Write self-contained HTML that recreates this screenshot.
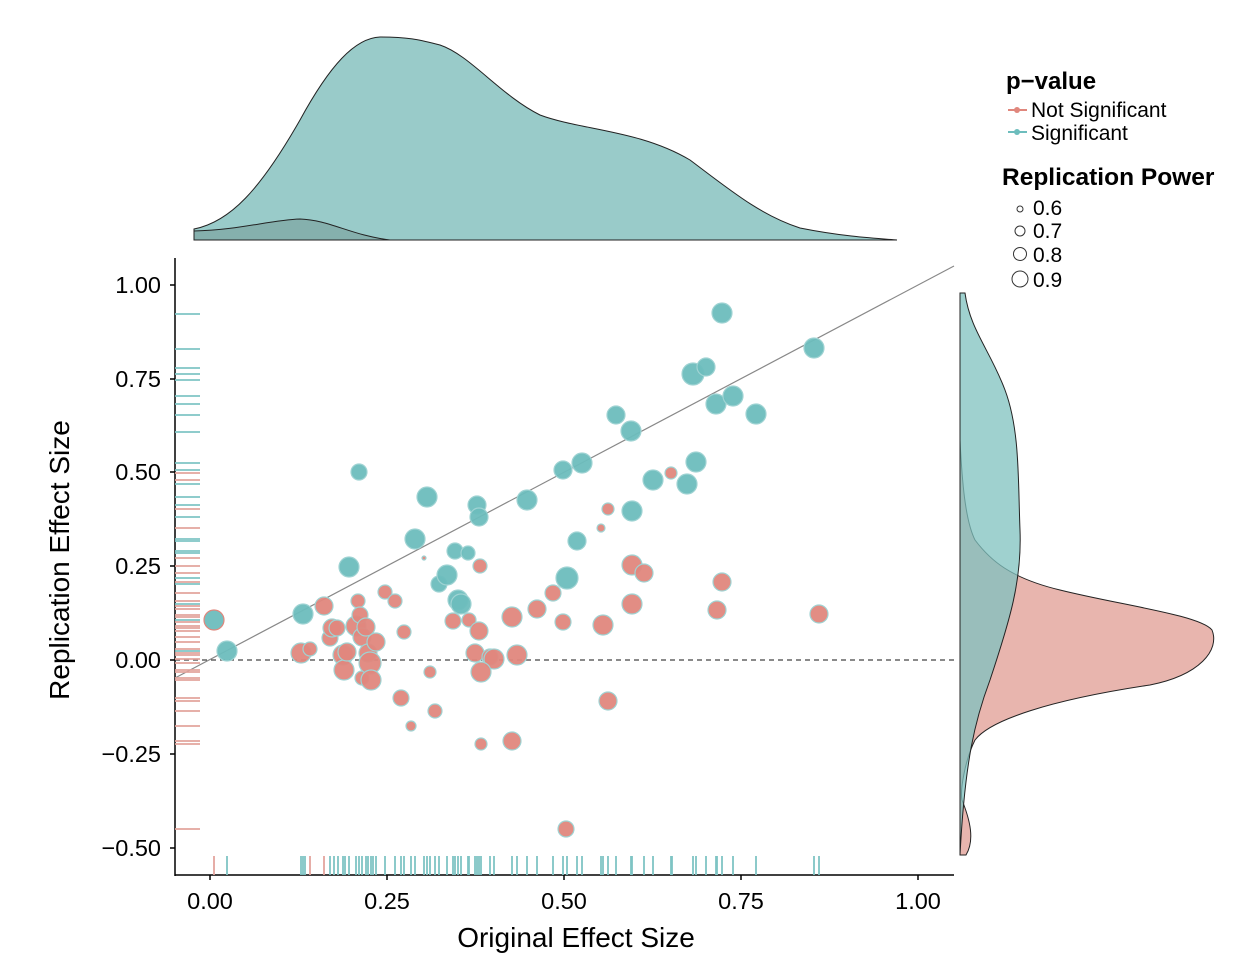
<!DOCTYPE html>
<html><head><meta charset="utf-8"><style>
body{margin:0;background:#fff;}
svg text{font-family:"Liberation Sans",sans-serif;}
</style></head><body>
<svg width="1250" height="966" viewBox="0 0 1250 966" xmlns="http://www.w3.org/2000/svg">
<rect width="1250" height="966" fill="#fff"/>
<!-- top density -->
<path d="M194,240 L194,229 C230,222 260,190 300,120 C330,65 355,38 380,37 C410,37 420,40 440,45 C470,55 500,95 540,115 C580,130 640,130 690,160 C730,190 760,215 800,228 C840,236 870,238 897,240 Z" fill="#99cbc9" stroke="#222" stroke-width="1"/>
<path d="M194,240 L194,231 C240,230 270,220 300,219 C330,220 350,235 390,240 Z" fill="#7fa9a6" stroke="#222" stroke-width="1" fill-opacity="0.8"/>
<!-- right density -->
<path d="M960,855 L966,855 C975,840 970,820 962,800 C960,790 965,760 975,740 C990,720 1050,700 1150,685 C1200,675 1220,650 1212,630 C1200,615 1120,605 1060,590 C1010,578 990,560 975,540 C965,520 962,480 960,440 Z" fill="#e8b5ae" stroke="#222" stroke-width="1"/>
<path d="M960,293 L965,293 C970,330 990,350 1005,390 C1020,430 1018,480 1020,530 C1022,580 1010,620 990,680 C975,720 965,760 960,855 Z" fill="#7fc1bf" fill-opacity="0.75" stroke="#222" stroke-width="1"/>
<!-- axes -->
<line x1="175" y1="258" x2="175" y2="876" stroke="#000" stroke-width="1.5"/>
<line x1="175" y1="875" x2="954" y2="875" stroke="#000" stroke-width="1.5"/>
<g stroke="#000" stroke-width="1.5">
<line x1="170" y1="285" x2="175" y2="285"/><line x1="170" y1="379" x2="175" y2="379"/><line x1="170" y1="472" x2="175" y2="472"/><line x1="170" y1="566" x2="175" y2="566"/><line x1="170" y1="660" x2="175" y2="660"/><line x1="170" y1="754" x2="175" y2="754"/><line x1="170" y1="848" x2="175" y2="848"/>
<line x1="210" y1="875" x2="210" y2="880"/><line x1="387" y1="875" x2="387" y2="880"/><line x1="564" y1="875" x2="564" y2="880"/><line x1="741" y1="875" x2="741" y2="880"/><line x1="918" y1="875" x2="918" y2="880"/>
</g>
<g font-size="23.5" fill="#000" text-anchor="end">
<text x="161" y="293">1.00</text><text x="161" y="387">0.75</text><text x="161" y="480">0.50</text><text x="161" y="574">0.25</text><text x="161" y="668">0.00</text><text x="161" y="762">−0.25</text><text x="161" y="856">−0.50</text>
</g>
<g font-size="23.5" fill="#000" text-anchor="middle">
<text x="210" y="909">0.00</text><text x="387" y="909">0.25</text><text x="564" y="909">0.50</text><text x="741" y="909">0.75</text><text x="918" y="909">1.00</text>
</g>
<text x="576" y="947" font-size="28" text-anchor="middle">Original Effect Size</text>
<text transform="translate(69,560) rotate(-90)" font-size="28" text-anchor="middle">Replication Effect Size</text>
<!-- reference lines -->
<line x1="175" y1="678" x2="954" y2="266" stroke="#888" stroke-width="1.2"/>
<line x1="175" y1="660" x2="954" y2="660" stroke="#444" stroke-width="1.3" stroke-dasharray="5,4"/>
<!-- y rug -->
<g stroke="#e3a49d" stroke-width="1.8">
<line x1="175" x2="200" y1="473" y2="473"/><line x1="175" x2="200" y1="480" y2="480"/><line x1="175" x2="200" y1="509" y2="509"/><line x1="175" x2="200" y1="528" y2="528"/><line x1="175" x2="200" y1="558" y2="558"/><line x1="175" x2="200" y1="566" y2="566"/><line x1="175" x2="200" y1="573" y2="573"/><line x1="175" x2="200" y1="582" y2="582"/><line x1="175" x2="200" y1="593" y2="593"/><line x1="175" x2="200" y1="601" y2="601"/><line x1="175" x2="200" y1="606" y2="606"/><line x1="175" x2="200" y1="609" y2="609"/><line x1="175" x2="200" y1="615" y2="615"/><line x1="175" x2="200" y1="617" y2="617"/><line x1="175" x2="200" y1="622" y2="622"/><line x1="175" x2="200" y1="626" y2="626"/><line x1="175" x2="200" y1="628" y2="628"/><line x1="175" x2="200" y1="631" y2="631"/><line x1="175" x2="200" y1="637" y2="637"/><line x1="175" x2="200" y1="642" y2="642"/><line x1="175" x2="200" y1="649" y2="649"/><line x1="175" x2="200" y1="653" y2="653"/><line x1="175" x2="200" y1="655" y2="655"/><line x1="175" x2="200" y1="659" y2="659"/><line x1="175" x2="200" y1="663" y2="663"/><line x1="175" x2="200" y1="670" y2="670"/><line x1="175" x2="200" y1="672" y2="672"/><line x1="175" x2="200" y1="678" y2="678"/><line x1="175" x2="200" y1="680" y2="680"/><line x1="175" x2="200" y1="698" y2="698"/><line x1="175" x2="200" y1="701" y2="701"/><line x1="175" x2="200" y1="711" y2="711"/><line x1="175" x2="200" y1="726" y2="726"/><line x1="175" x2="200" y1="741" y2="741"/><line x1="175" x2="200" y1="744" y2="744"/><line x1="175" x2="200" y1="829" y2="829"/>
</g>
<g stroke="#7fc4c4" stroke-width="1.8">
<line x1="175" x2="200" y1="314" y2="314"/><line x1="175" x2="200" y1="349" y2="349"/><line x1="175" x2="200" y1="368" y2="368"/><line x1="175" x2="200" y1="374" y2="374"/><line x1="175" x2="200" y1="380" y2="380"/><line x1="175" x2="200" y1="396" y2="396"/><line x1="175" x2="200" y1="404" y2="404"/><line x1="175" x2="200" y1="415" y2="415"/><line x1="175" x2="200" y1="432" y2="432"/><line x1="175" x2="200" y1="463" y2="463"/><line x1="175" x2="200" y1="470" y2="470"/><line x1="175" x2="200" y1="484" y2="484"/><line x1="175" x2="200" y1="497" y2="497"/><line x1="175" x2="200" y1="505" y2="505"/><line x1="175" x2="200" y1="517" y2="517"/><line x1="175" x2="200" y1="539" y2="539"/><line x1="175" x2="200" y1="541" y2="541"/><line x1="175" x2="200" y1="551" y2="551"/><line x1="175" x2="200" y1="553" y2="553"/><line x1="175" x2="200" y1="578" y2="578"/><line x1="175" x2="200" y1="584" y2="584"/><line x1="175" x2="200" y1="604" y2="604"/><line x1="175" x2="200" y1="620" y2="620"/><line x1="175" x2="200" y1="651" y2="651"/>
</g>
<!-- x rug -->
<g stroke="#e3a49d" stroke-width="1.8"><line x1="214" x2="214" y1="856" y2="875"/><line x1="310" x2="310" y1="856" y2="875"/><line x1="324" x2="324" y1="856" y2="875"/></g>
<g stroke="#7fc4c4" stroke-width="1.8">
<line x1="227" x2="227" y1="856" y2="875"/><line x1="301" x2="301" y1="856" y2="875"/><line x1="303" x2="303" y1="856" y2="875"/><line x1="305" x2="305" y1="856" y2="875"/><line x1="330" x2="330" y1="856" y2="875"/><line x1="334" x2="334" y1="856" y2="875"/><line x1="338" x2="338" y1="856" y2="875"/><line x1="343" x2="343" y1="856" y2="875"/><line x1="345" x2="345" y1="856" y2="875"/><line x1="349" x2="349" y1="856" y2="875"/><line x1="356" x2="356" y1="856" y2="875"/><line x1="359" x2="359" y1="856" y2="875"/><line x1="362" x2="362" y1="856" y2="875"/><line x1="366" x2="366" y1="856" y2="875"/><line x1="368" x2="368" y1="856" y2="875"/><line x1="371" x2="371" y1="856" y2="875"/><line x1="373" x2="373" y1="856" y2="875"/><line x1="376" x2="376" y1="856" y2="875"/><line x1="385" x2="385" y1="856" y2="875"/><line x1="395" x2="395" y1="856" y2="875"/><line x1="401" x2="401" y1="856" y2="875"/><line x1="404" x2="404" y1="856" y2="875"/><line x1="411" x2="411" y1="856" y2="875"/><line x1="415" x2="415" y1="856" y2="875"/><line x1="424" x2="424" y1="856" y2="875"/><line x1="427" x2="427" y1="856" y2="875"/><line x1="430" x2="430" y1="856" y2="875"/><line x1="435" x2="435" y1="856" y2="875"/><line x1="439" x2="439" y1="856" y2="875"/><line x1="447" x2="447" y1="856" y2="875"/><line x1="453" x2="453" y1="856" y2="875"/><line x1="455" x2="455" y1="856" y2="875"/><line x1="458" x2="458" y1="856" y2="875"/><line x1="461" x2="461" y1="856" y2="875"/><line x1="468" x2="468" y1="856" y2="875"/><line x1="469" x2="469" y1="856" y2="875"/><line x1="475" x2="475" y1="856" y2="875"/><line x1="477" x2="477" y1="856" y2="875"/><line x1="479" x2="479" y1="856" y2="875"/><line x1="481" x2="481" y1="856" y2="875"/><line x1="490" x2="490" y1="856" y2="875"/><line x1="494" x2="494" y1="856" y2="875"/><line x1="512" x2="512" y1="856" y2="875"/><line x1="517" x2="517" y1="856" y2="875"/><line x1="527" x2="527" y1="856" y2="875"/><line x1="537" x2="537" y1="856" y2="875"/><line x1="553" x2="553" y1="856" y2="875"/><line x1="563" x2="563" y1="856" y2="875"/><line x1="567" x2="567" y1="856" y2="875"/><line x1="577" x2="577" y1="856" y2="875"/><line x1="582" x2="582" y1="856" y2="875"/><line x1="601" x2="601" y1="856" y2="875"/><line x1="603" x2="603" y1="856" y2="875"/><line x1="608" x2="608" y1="856" y2="875"/><line x1="616" x2="616" y1="856" y2="875"/><line x1="631" x2="631" y1="856" y2="875"/><line x1="632" x2="632" y1="856" y2="875"/><line x1="644" x2="644" y1="856" y2="875"/><line x1="653" x2="653" y1="856" y2="875"/><line x1="671" x2="671" y1="856" y2="875"/><line x1="672" x2="672" y1="856" y2="875"/><line x1="693" x2="693" y1="856" y2="875"/><line x1="696" x2="696" y1="856" y2="875"/><line x1="706" x2="706" y1="856" y2="875"/><line x1="716" x2="716" y1="856" y2="875"/><line x1="717" x2="717" y1="856" y2="875"/><line x1="722" x2="722" y1="856" y2="875"/><line x1="733" x2="733" y1="856" y2="875"/><line x1="756" x2="756" y1="856" y2="875"/><line x1="814" x2="814" y1="856" y2="875"/><line x1="819" x2="819" y1="856" y2="875"/>
</g>
<!-- red points -->
<g fill="#e0877d" stroke="#9fd3d3" stroke-width="1.2" fill-opacity="0.95">
<circle cx="324" cy="606" r="9"/><circle cx="301" cy="653" r="10"/><circle cx="310" cy="649" r="7"/><circle cx="330" cy="638" r="8"/><circle cx="332" cy="628" r="9"/><circle cx="337" cy="628" r="8"/><circle cx="343" cy="655" r="10"/><circle cx="344" cy="670" r="10"/><circle cx="347" cy="652" r="9"/><circle cx="356" cy="626" r="10"/><circle cx="358" cy="601" r="7"/><circle cx="360" cy="615" r="8"/><circle cx="362" cy="637" r="9"/><circle cx="362" cy="678" r="7"/><circle cx="366" cy="627" r="9"/><circle cx="368" cy="653" r="9"/><circle cx="370" cy="663" r="11"/><circle cx="371" cy="680" r="10"/><circle cx="376" cy="642" r="9"/><circle cx="385" cy="592" r="7"/><circle cx="395" cy="601" r="7"/><circle cx="404" cy="632" r="7"/><circle cx="401" cy="698" r="8"/><circle cx="411" cy="726" r="5"/><circle cx="430" cy="672" r="6"/><circle cx="435" cy="711" r="7"/><circle cx="424" cy="558" r="2"/><circle cx="469" cy="620" r="7"/><circle cx="453" cy="621" r="8"/><circle cx="475" cy="653" r="9"/><circle cx="479" cy="631" r="9"/><circle cx="480" cy="566" r="7"/><circle cx="481" cy="744" r="6"/><circle cx="490" cy="657" r="8"/><circle cx="494" cy="659" r="10"/><circle cx="512" cy="617" r="10"/><circle cx="512" cy="741" r="9"/><circle cx="517" cy="655" r="10"/><circle cx="537" cy="609" r="9"/><circle cx="553" cy="593" r="8"/><circle cx="563" cy="622" r="8"/><circle cx="566" cy="829" r="8"/><circle cx="601" cy="528" r="4"/><circle cx="603" cy="625" r="10"/><circle cx="608" cy="509" r="6"/><circle cx="608" cy="701" r="9"/><circle cx="632" cy="565" r="10"/><circle cx="632" cy="604" r="10"/><circle cx="644" cy="573" r="9"/><circle cx="671" cy="473" r="6"/><circle cx="717" cy="610" r="9"/><circle cx="722" cy="582" r="9"/><circle cx="819" cy="614" r="9"/><circle cx="481" cy="672" r="10"/>
</g>
<!-- teal points -->
<g fill="#6dbdbd" stroke="#9fd3d3" stroke-width="1.2" fill-opacity="0.95">
<circle cx="214" cy="620" r="10" stroke="#e0877d"/><circle cx="227" cy="651" r="10"/><circle cx="303" cy="614" r="10"/><circle cx="349" cy="567" r="10"/><circle cx="359" cy="472" r="8"/><circle cx="415" cy="539" r="10"/><circle cx="427" cy="497" r="10"/><circle cx="439" cy="584" r="8"/><circle cx="447" cy="575" r="10"/><circle cx="455" cy="551" r="8"/><circle cx="458" cy="600" r="10"/><circle cx="461" cy="604" r="10"/><circle cx="468" cy="553" r="7"/><circle cx="477" cy="505" r="9"/><circle cx="479" cy="517" r="9"/><circle cx="527" cy="500" r="10"/><circle cx="563" cy="470" r="9"/><circle cx="567" cy="578" r="11"/><circle cx="577" cy="541" r="9"/><circle cx="582" cy="463" r="10"/><circle cx="616" cy="415" r="9"/><circle cx="631" cy="431" r="10"/><circle cx="632" cy="511" r="10"/><circle cx="653" cy="480" r="10"/><circle cx="687" cy="484" r="10"/><circle cx="693" cy="374" r="11"/><circle cx="696" cy="462" r="10"/><circle cx="706" cy="367" r="9"/><circle cx="716" cy="404" r="10"/><circle cx="722" cy="313" r="10"/><circle cx="733" cy="396" r="10"/><circle cx="756" cy="414" r="10"/><circle cx="814" cy="348" r="10"/>
</g>
<!-- legend -->
<text x="1006" y="89" font-size="24" font-weight="bold">p−value</text>
<line x1="1008" y1="110" x2="1027" y2="110" stroke="#e0877d" stroke-width="2"/><circle cx="1017" cy="110" r="3" fill="#e0877d"/>
<text x="1031" y="117" font-size="21">Not Significant</text>
<line x1="1008" y1="132" x2="1027" y2="132" stroke="#6dbdbd" stroke-width="2"/><circle cx="1017" cy="132" r="3" fill="#6dbdbd"/>
<text x="1031" y="140" font-size="21">Significant</text>
<text x="1002" y="185" font-size="24.5" font-weight="bold">Replication Power</text>
<g fill="none" stroke="#333" stroke-width="1">
<circle cx="1020" cy="209" r="3"/><circle cx="1020" cy="231" r="5"/><circle cx="1020" cy="254" r="6.5"/><circle cx="1020" cy="279" r="8"/>
</g>
<g font-size="21"><text x="1033" y="215">0.6</text><text x="1033" y="238">0.7</text><text x="1033" y="262">0.8</text><text x="1033" y="287">0.9</text></g>
</svg>
</body></html>
